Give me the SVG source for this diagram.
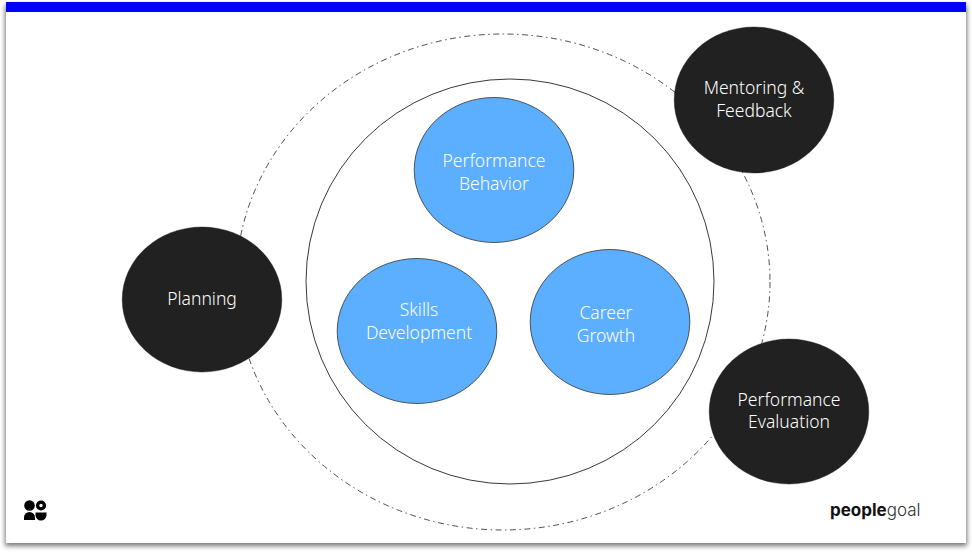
<svg xmlns="http://www.w3.org/2000/svg" width="972" height="552" viewBox="0 0 972 552">
  <style>
    .label { font-family: "Noto Sans", "Open Sans", sans-serif; font-size: 17.500px; font-weight: 300; text-anchor: middle; fill: #fff; }
    .dark { fill: #212121; stroke: #111; stroke-width: 0.4; }
    .blue { fill: #5caefe; stroke: #333; stroke-width: 0.8; }
    .ring { fill: none; stroke: #222; }
  </style>
  <defs>
    <filter id="slideShadow" x="-3%" y="-3%" width="106%" height="106%">
      <feGaussianBlur stdDeviation="2.5"/>
    </filter>
  </defs>
  <rect x="0" y="0" width="972" height="552" fill="#fff"/>
  <!-- Slide -->
  <rect x="5" y="5" width="962" height="541" fill="#777" filter="url(#slideShadow)"/>
  <rect x="6" y="2" width="960" height="541" fill="#fff"/>
  <rect x="6" y="2" width="960" height="10" fill="#0000ff"/>
  <g id="connectors">
    <ellipse class="ring" cx="503" cy="282" rx="267" ry="248" stroke-width="0.8" stroke-dasharray="6 3.500 1.500 3.500"/>
    <ellipse class="ring" cx="510" cy="281.500" rx="204" ry="202.500" stroke-width="0.9"/>
  </g>
  <g id="node-planning">
    <ellipse class="dark" cx="202" cy="299.500" rx="79.800" ry="72.500"/>
    <text class="label" x="202" y="305">Planning</text>
  </g>
  <g id="node-mentoring">
    <ellipse class="dark" cx="754" cy="100" rx="79.800" ry="73"/>
    <text class="label" x="754" y="94">Mentoring &amp;</text>
    <text class="label" x="754" y="117">Feedback</text>
  </g>
  <g id="node-evaluation">
    <ellipse class="dark" cx="789" cy="411.500" rx="79.800" ry="72.500"/>
    <text class="label" x="789" y="406">Performance</text>
    <text class="label" x="789" y="428">Evaluation</text>
  </g>
  <g id="node-behavior">
    <ellipse class="blue" cx="494" cy="170" rx="79.800" ry="72.500"/>
    <text class="label" x="494" y="167">Performance</text>
    <text class="label" x="494" y="190">Behavior</text>
  </g>
  <g id="node-skills">
    <ellipse class="blue" cx="417" cy="331" rx="79.800" ry="72.500"/>
    <text class="label" x="419" y="316">Skills</text>
    <text class="label" x="419" y="339">Development</text>
  </g>
  <g id="node-career">
    <ellipse class="blue" cx="610" cy="322" rx="79.800" ry="72.500"/>
    <text class="label" x="606" y="319">Career</text>
    <text class="label" x="606" y="342">Growth</text>
  </g>
  <g id="brand-mark" fill="#000">
    <circle cx="29.500" cy="505.500" r="5.300"/>
    <circle cx="41" cy="505.500" r="3.400" fill="none" stroke="#000" stroke-width="3.400"/>
    <path d="M24 520v-2.500a5.500 5.500 0 0 1 11 0v2.500z"/>
    <path d="M35.500 512.500h11v2.500a5.500 5.500 0 0 1-11 0z"/>
  </g>
  <g id="brand-name">
    <text x="830" y="516" font-family="Inter, Roboto, sans-serif" font-size="17" font-weight="700" fill="#111">people<tspan font-weight="300" fill="#333">goal</tspan></text>
  </g>
</svg>
